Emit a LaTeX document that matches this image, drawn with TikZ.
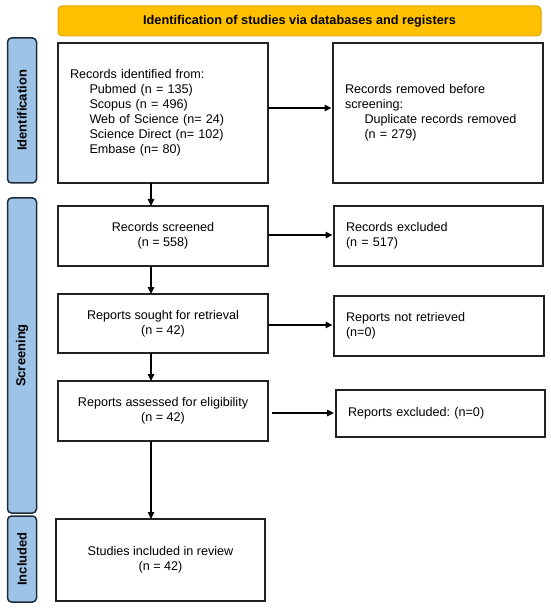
\documentclass[tikz,border=0pt]{standalone}
\usepackage{fontspec}
\setmainfont{Liberation Sans}
\usetikzlibrary{arrows.meta}
\frenchspacing
\definecolor{hdrfill}{HTML}{FFC000}
\definecolor{hdrdraw}{HTML}{E3A600}
\definecolor{sidefill}{HTML}{9DC3E6}
\definecolor{sidedraw}{HTML}{1E2A36}
\definecolor{boxdraw}{HTML}{222222}
\begin{document}
\begin{tikzpicture}[x=1pt,y=-1pt,
  every node/.style={font=\fontsize{12.6}{15}\selectfont, inner sep=0pt, outer sep=0pt},
  box/.style={draw=boxdraw, line width=1.2pt, fill=white, rectangle},
  lbox/.style={box, align=left, inner xsep=12pt, anchor=north west},
  cbox/.style={box, align=center, anchor=north west},
  side/.style={draw=sidedraw, fill=sidefill, line width=1.5pt, rounded corners=4pt,
     rotate=90, minimum height=29pt, font=\bfseries\fontsize{13}{15}\selectfont},
  hdr/.style={draw=hdrdraw, fill=hdrfill, line width=1pt, rounded corners=4pt,
     minimum width=483pt, minimum height=30pt, font=\bfseries\fontsize{12.7}{15}\selectfont},
  arr/.style={draw=black, line width=1.2pt, -{Triangle[length=7pt,width=6.5pt]}}
]
\useasboundingbox (0,0) rectangle (550,609);

% header
\node[hdr] (hdr) at (299.5,21) {Identification of studies via databases and registers};

% side labels
\node[side, minimum width=145pt] (sid) at (22,110.5) {Identification};
\node[side, minimum width=315pt] (ssc) at (22,355.5) {Screening};
\node[side, minimum width=86pt] (sin) at (22,559) {Included};

% left column
\node[lbox, minimum width=210pt, minimum height=140pt, text width=186pt] (b1) at (58,43)
  {Records identified from:\\
   \hspace*{19.5pt}Pubmed (n = 135)\\
   \hspace*{19.5pt}Scopus (n = 496)\\
   \hspace*{19.5pt}Web of Science (n= 24)\\
   \hspace*{19.5pt}Science Direct (n= 102)\\
   \hspace*{19.5pt}Embase (n= 80)};
\node[cbox, minimum width=210pt, minimum height=60pt] (b2) at (58,206)
  {Records screened\\(n = 558)};
\node[cbox, minimum width=210pt, minimum height=59pt] (b3) at (58,294)
  {Reports sought for retrieval\\(n = 42)};
\node[cbox, minimum width=210pt, minimum height=60pt] (b4) at (58,381)
  {Reports assessed for eligibility\\(n = 42)};
\node[cbox, minimum width=209pt, minimum height=82pt] (b5) at (56,519)
  {Studies included in review\\(n = 42)};

% right column
\node[lbox, minimum width=210pt, minimum height=140pt, text width=186pt] (r1) at (333,43)
  {Records removed before\\screening:\\
   \hspace*{19.5pt}Duplicate records removed\\
   \hspace*{19.5pt}(n = 279)};
\node[lbox, minimum width=209pt, minimum height=60pt, text width=185pt] (r2) at (334,206)
  {Records excluded\\(n = 517)};
\node[lbox, minimum width=210pt, minimum height=60pt, text width=186pt] (r3) at (334,296)
  {Reports not retrieved\\(n=0)};
\node[lbox, minimum width=209pt, minimum height=47pt, text width=185pt] (r4) at (336,390)
  {Reports excluded: (n=0)};

% helper coordinates for connector lines
\coordinate (vx) at (151,0);
\coordinate (h1) at (0,108);
\coordinate (h2) at (0,235);
\coordinate (h3) at (0,325);
\coordinate (h4) at (0,413);

% vertical connectors
\draw[arr] (b1.south -| vx) -- (b2.north -| vx);
\draw[arr] (b2.south -| vx) -- (b3.north -| vx);
\draw[arr] (b3.south -| vx) -- (b4.north -| vx);
\draw[arr] (b4.south -| vx) -- (b5.north -| vx);

% horizontal connectors
\draw[arr, shorten >=1.5pt] (b1.east |- h1) -- (r1.west |- h1);
\draw[arr, shorten >=1.5pt] (b2.east |- h2) -- (r2.west |- h2);
\draw[arr, shorten >=1.5pt] (b3.east |- h3) -- (r3.west |- h3);
\draw[arr, shorten <=4pt, shorten >=2pt] (b4.east |- h4) -- (r4.west |- h4);
\end{tikzpicture}
\end{document}
